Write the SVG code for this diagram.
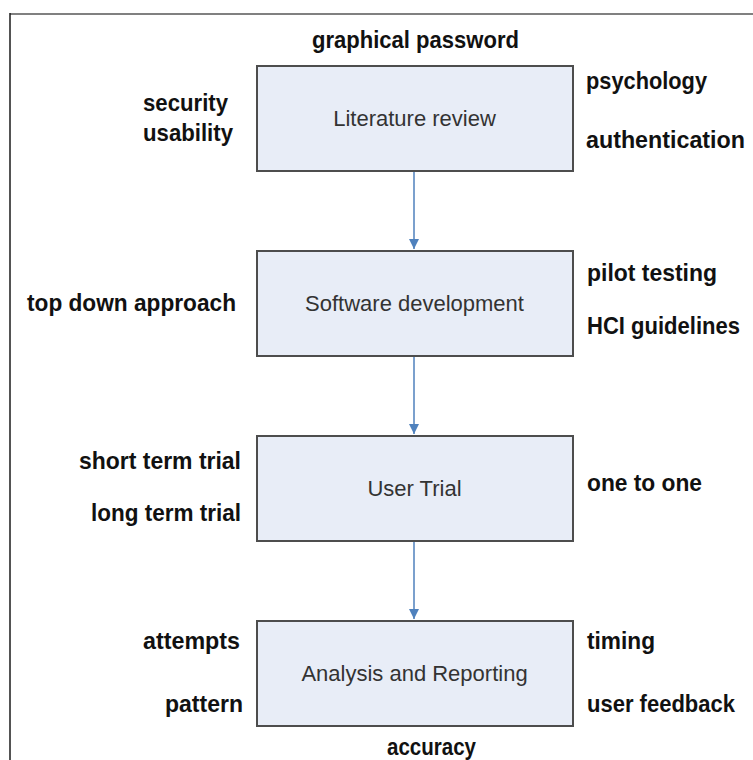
<svg xmlns="http://www.w3.org/2000/svg" width="753" height="760" viewBox="0 0 753 760">
<style>
.box{fill:#e8edf7;stroke:#4d4d4d;stroke-width:2}
.bt{font-family:"Liberation Sans",Arial,sans-serif;font-size:22px;fill:#333;text-anchor:middle}
.lb{font-family:"Liberation Sans",Arial,sans-serif;font-size:24px;font-weight:bold;fill:#111}
.conn{stroke:#4f81bd;stroke-width:1.5;fill:none}
</style>
<defs>
<marker id="ah" markerWidth="10" markerHeight="10" refX="10" refY="5" orient="auto" markerUnits="userSpaceOnUse" viewBox="0 0 10 10">
<path d="M0,0 L10,5 L0,10 Z" fill="#4f81bd"/>
</marker>
</defs>
<rect width="753" height="760" fill="#fff"/>
<g id="frame">
<line x1="10" y1="14" x2="753" y2="14" stroke="#808080" stroke-width="2"/>
<line x1="10" y1="13" x2="10" y2="760" stroke="#1a1a1a" stroke-width="1.5"/>
</g>
<g id="connectors">
<line class="conn" x1="414" y1="172" x2="414" y2="249" marker-end="url(#ah)"/>
<line class="conn" x1="414" y1="357" x2="414" y2="434" marker-end="url(#ah)"/>
<line class="conn" x1="414" y1="542" x2="414" y2="619" marker-end="url(#ah)"/>
</g>
<g id="literature-review">
<rect class="box" x="257" y="66" width="316" height="105"/>
<text class="bt" x="414.5" y="126">Literature review</text>
</g>
<g id="software-development">
<rect class="box" x="257" y="251" width="316" height="105"/>
<text class="bt" x="414.5" y="311">Software development</text>
</g>
<g id="user-trial">
<rect class="box" x="257" y="436" width="316" height="105"/>
<text class="bt" x="414.5" y="496">User Trial</text>
</g>
<g id="analysis-reporting">
<rect class="box" x="257" y="621" width="316" height="105"/>
<text class="bt" x="414.5" y="681">Analysis and Reporting</text>
</g>
<g id="labels">
<text class="lb" x="312" y="48" textLength="207" lengthAdjust="spacingAndGlyphs">graphical password</text>
<text class="lb" x="143" y="111" textLength="85" lengthAdjust="spacingAndGlyphs">security</text>
<text class="lb" x="143" y="141" textLength="90" lengthAdjust="spacingAndGlyphs">usability</text>
<text class="lb" x="586" y="89" textLength="121" lengthAdjust="spacingAndGlyphs">psychology</text>
<text class="lb" x="586" y="148" textLength="159" lengthAdjust="spacingAndGlyphs">authentication</text>
<text class="lb" x="587" y="281" textLength="130" lengthAdjust="spacingAndGlyphs">pilot testing</text>
<text class="lb" x="587" y="334" textLength="153" lengthAdjust="spacingAndGlyphs">HCI guidelines</text>
<text class="lb" x="27" y="311" textLength="209" lengthAdjust="spacingAndGlyphs">top down approach</text>
<text class="lb" x="79" y="469" textLength="162" lengthAdjust="spacingAndGlyphs">short term trial</text>
<text class="lb" x="91" y="521" textLength="150" lengthAdjust="spacingAndGlyphs">long term trial</text>
<text class="lb" x="587" y="491" textLength="115" lengthAdjust="spacingAndGlyphs">one to one</text>
<text class="lb" x="143" y="649" textLength="97" lengthAdjust="spacingAndGlyphs">attempts</text>
<text class="lb" x="165" y="712" textLength="78" lengthAdjust="spacingAndGlyphs">pattern</text>
<text class="lb" x="587" y="649" textLength="68" lengthAdjust="spacingAndGlyphs">timing</text>
<text class="lb" x="587" y="712" textLength="148" lengthAdjust="spacingAndGlyphs">user feedback</text>
<text class="lb" x="387" y="755" textLength="89" lengthAdjust="spacingAndGlyphs">accuracy</text>
</g>
</svg>
